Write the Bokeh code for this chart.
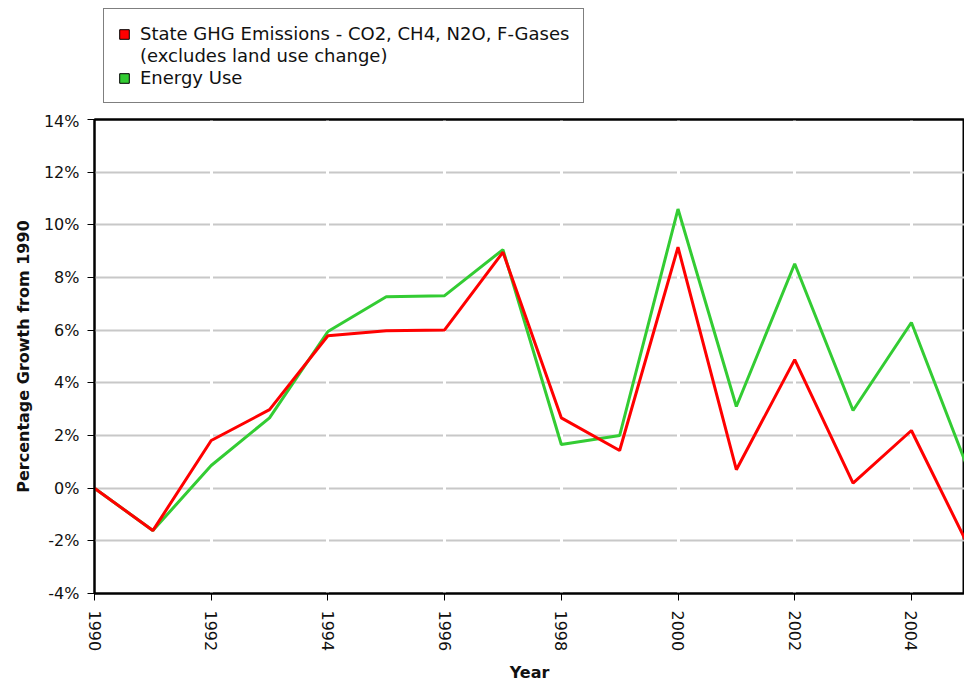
from bokeh.plotting import figure
from bokeh.layouts import column
from bokeh.models import (Range1d, FixedTicker, PrintfTickFormatter, Legend,
                          LegendItem, ColumnDataSource, LinearAxis)
from bokeh.embed import file_html
from bokeh.resources import INLINE

years = list(range(1990, 2006))
ghg = [0, -1.61, 1.81, 2.98, 5.79, 5.98, 6.01, 8.96, 2.67, 1.43, 9.15, 0.70, 4.88, 0.19, 2.19, -2.3]
energy = [0, -1.61, 0.86, 2.67, 5.95, 7.27, 7.31, 9.06, 1.66, 2.0, 10.6, 3.1, 8.52, 2.95, 6.29, 0.56]
x_ticks = [1990, 1992, 1994, 1996, 1998, 2000, 2002, 2004]
y_ticks = [-4, -2, 0, 2, 4, 6, 8, 10, 12, 14]
ghg_label_1 = "State GHG Emissions - CO2, CH4, N2O, F-Gases"
ghg_label_2 = "(excludes land use change)"
energy_label = "Energy Use"

RED = "#ff0000"
GREEN = "#33cc33"
FONT = "DejaVu Sans"
TXT = "#111111"

# ---------- main chart ----------
p = figure(frame_width=870, frame_height=474,
           x_range=Range1d(1990, 2004.91), y_range=Range1d(-4, 14),
           output_backend="svg", toolbar_location=None,
           min_border_left=94, min_border_right=0, min_border_top=8,
           min_border_bottom=90)
p.background_fill_color = "white"
p.border_fill_color = "white"
p.outline_line_color = "black"
p.outline_line_width = 2

src = ColumnDataSource(dict(year=years, ghg=ghg, energy=energy))
p.line("year", "energy", source=src, line_color=GREEN, line_width=3)
p.line("year", "ghg", source=src, line_color=RED, line_width=3)

p.xaxis.ticker = FixedTicker(ticks=x_ticks)
p.yaxis.ticker = FixedTicker(ticks=y_ticks)
p.yaxis.formatter = PrintfTickFormatter(format="%d%%")
p.xaxis.major_label_orientation = "vertical"
for ax in (p.xaxis[0], p.yaxis[0]):
    ax.axis_line_color = "black"
    ax.axis_line_width = 2
    ax.major_tick_line_color = "black"
    ax.major_tick_line_width = 1
    ax.major_tick_out = 7
    ax.major_tick_in = 0
    ax.minor_tick_line_color = None
    ax.major_label_text_font = FONT
    ax.major_label_text_font_size = "16px"
    ax.major_label_text_color = TXT
    ax.axis_label_text_font = FONT
    ax.axis_label_text_font_size = "16px"
    ax.axis_label_text_font_style = "bold"
    ax.axis_label_text_color = TXT
p.xaxis.axis_label = "Year"
p.yaxis.axis_label = "Percentage Growth from 1990"
p.xaxis.major_label_standoff = 10
p.yaxis.major_label_standoff = 8
p.xaxis.axis_label_standoff = 9
p.yaxis.axis_label_standoff = 8

# plain top border line drawn above the grid
top = LinearAxis(axis_line_color="black", axis_line_width=2,
                 major_tick_line_color=None, minor_tick_line_color=None,
                 major_label_text_font_size="0px", ticker=FixedTicker(ticks=[]))
p.add_layout(top, "above")

# grid: gray horizontal lines with small white gaps at the x ticks
p.ygrid.grid_line_color = "#c8c8c8"
p.ygrid.grid_line_width = 2
p.xgrid.grid_line_color = "white"
p.xgrid.grid_line_width = 3
p.xgrid.ticker = FixedTicker(ticks=x_ticks[1:])
p.ygrid.ticker = FixedTicker(ticks=y_ticks[1:-1])
p.center = [p.ygrid[0], p.xgrid[0]] + [r for r in p.center if r not in (p.ygrid[0], p.xgrid[0])]

# ---------- legend strip ----------
lg = figure(frame_width=956, frame_height=111, x_axis_type=None, y_axis_type=None,
            output_backend="svg", toolbar_location=None,
            min_border=0, x_range=Range1d(0, 1), y_range=Range1d(0, 1))
lg.outline_line_color = None
lg.grid.visible = False
off = ColumnDataSource(dict(l=[-10], r=[-9], b=[-10], t=[-9]))
r_g = lg.quad(left="l", right="r", bottom="b", top="t", source=off,
              fill_color=RED, line_color="black", line_width=1)
blank = lg.quad(left="l", right="r", bottom="b", top="t", source=off,
                fill_color=None, line_color=None)
e_g = lg.quad(left="l", right="r", bottom="b", top="t", source=off,
              fill_color=GREEN, line_color="black", line_width=1)
legend = Legend(items=[LegendItem(label=ghg_label_1, renderers=[r_g]),
                       LegendItem(label=ghg_label_2, renderers=[blank]),
                       LegendItem(label=energy_label, renderers=[e_g])],
                location=(103, 8), orientation="vertical",
                border_line_color="black", border_line_width=1,
                background_fill_color="white", background_fill_alpha=1,
                label_text_font=FONT, label_text_font_size="18px",
                label_text_color=TXT, label_height=20,
                glyph_width=12, glyph_height=12, label_standoff=10,
                padding=14, spacing=1, margin=0)
lg.add_layout(legend, "center")

layout = column(lg, p, spacing=0)
open("out.html", "w").write(file_html(layout, INLINE))
